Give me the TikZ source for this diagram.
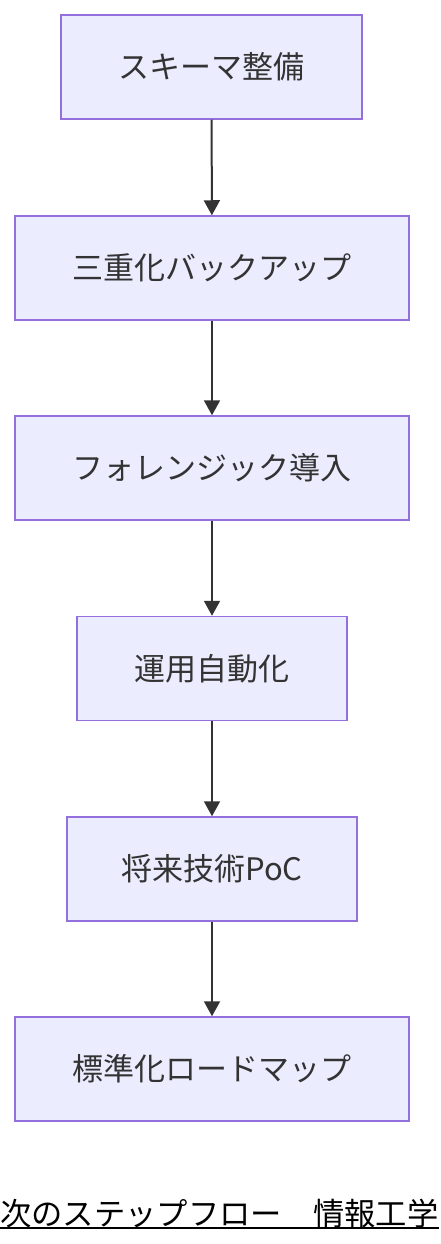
\documentclass[tikz,border=0pt]{standalone}
\usepackage{fontspec}
\setmainfont{Noto Sans CJK JP}
\usetikzlibrary{arrows.meta}
\definecolor{boxfill}{HTML}{ECECFF}
\definecolor{boxline}{HTML}{9370DB}
\definecolor{ink}{HTML}{333333}

\begin{document}
\begin{tikzpicture}[x=1pt,y=-1pt]
        \tikzset{stepbox/.style = {draw=boxline, fill=boxfill, line width=1.5pt, minimum height=104pt, inner sep=0pt, text=ink, font=\fontsize{31}{36}\selectfont}}
        \tikzset{flow/.style = {draw=ink, line width=2pt, -{Triangle[length=15pt,width=16pt]}}}

        \useasboundingbox (0,0) rectangle (440,1244);

        \node[stepbox, minimum width=301pt] (schema) at (211.5,67) {スキーマ整備};
        \node[stepbox, minimum width=394pt] (backup) at (212,268) {三重化バックアップ};
        \node[stepbox, minimum width=394pt] (forensic) at (212,468) {フォレンジック導入};
        \node[stepbox, minimum width=270pt] (auto) at (212,668.5) {運用自動化};
        \node[stepbox, minimum width=290pt] (poc) at (212,869) {将来技術PoC};
        \node[stepbox, minimum width=394pt] (roadmap) at (212,1069) {標準化ロードマップ};

        \draw[flow] (schema) -- (backup);
        \draw[flow] (backup) -- (forensic);
        \draw[flow] (forensic) -- (auto);
        \draw[flow] (auto) -- (poc);
        \draw[flow] (poc) -- (roadmap);

        \node[anchor=base west, inner sep=0pt, font=\fontsize{31.3}{36}\selectfont] (caption) at (0,1225) {次のステップフロー　情報工学};
        \draw[line width=1.5pt] (caption.south west) -- (caption.south east);

        \end{tikzpicture}
\end{document}
